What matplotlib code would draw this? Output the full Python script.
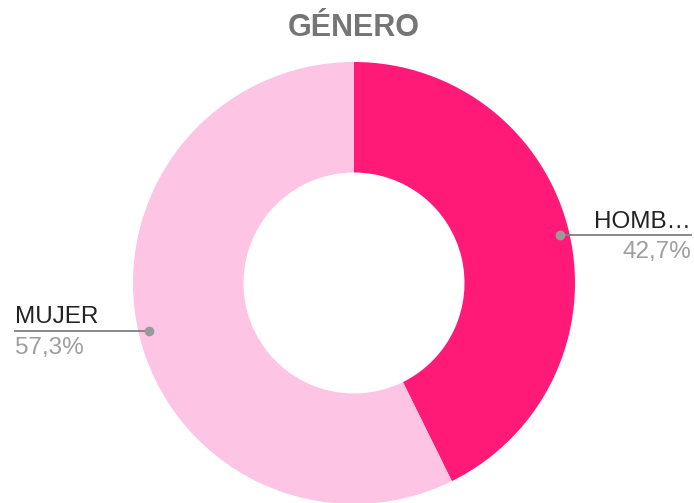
import matplotlib.pyplot as plt

labels = ["HOMBRE", "MUJER"]
shown_labels = ["HOMB…", "MUJER"]
shares = [42.7, 57.3]
pct_text = ["42,7%", "57,3%"]
colors = ["#ff1a77", "#fdc4e4"]

W, H = 694, 503
plt.rcParams['font.family'] = ['Liberation Sans', 'DejaVu Sans']

fig = plt.figure(figsize=(W / 100, H / 100), dpi=100)
ax = fig.add_axes([0, 0, 1, 1])

cx, cy, r = 354, H - 283, 221
ax.pie(shares, colors=colors, startangle=90, counterclock=False,
       center=(cx, cy), radius=r, wedgeprops=dict(width=r * 0.5, linewidth=0))
ax.set_xlim(0, W)
ax.set_ylim(0, H)
ax.set_aspect('equal')
ax.axis('off')

ax.text(354, H - 36, "GÉNERO", ha='center', va='baseline', fontsize=22,
        fontweight='bold', color='#757575')

line_col = '#7f7f7f'
# HOMBRE label, right side
ax.plot([560, 691], [H - 235, H - 235], color=line_col, lw=1.3)
ax.plot([560], [H - 235], 'o', color='#9a9a9a', ms=6)
ax.text(691, H - 228, shown_labels[0], ha='right', va='baseline', fontsize=17.5, color='#222222')
ax.text(691, H - 258, pct_text[0], ha='right', va='baseline', fontsize=17.5, color='#9e9e9e')

# MUJER label, left side
ax.plot([15, 149], [H - 331, H - 331], color=line_col, lw=1.3)
ax.plot([149], [H - 331], 'o', color='#9a9a9a', ms=6)
ax.text(15, H - 323, shown_labels[1], ha='left', va='baseline', fontsize=17.5, color='#222222')
ax.text(15, H - 354, pct_text[1], ha='left', va='baseline', fontsize=17.5, color='#9e9e9e')

fig.savefig("out.png", dpi=100)
